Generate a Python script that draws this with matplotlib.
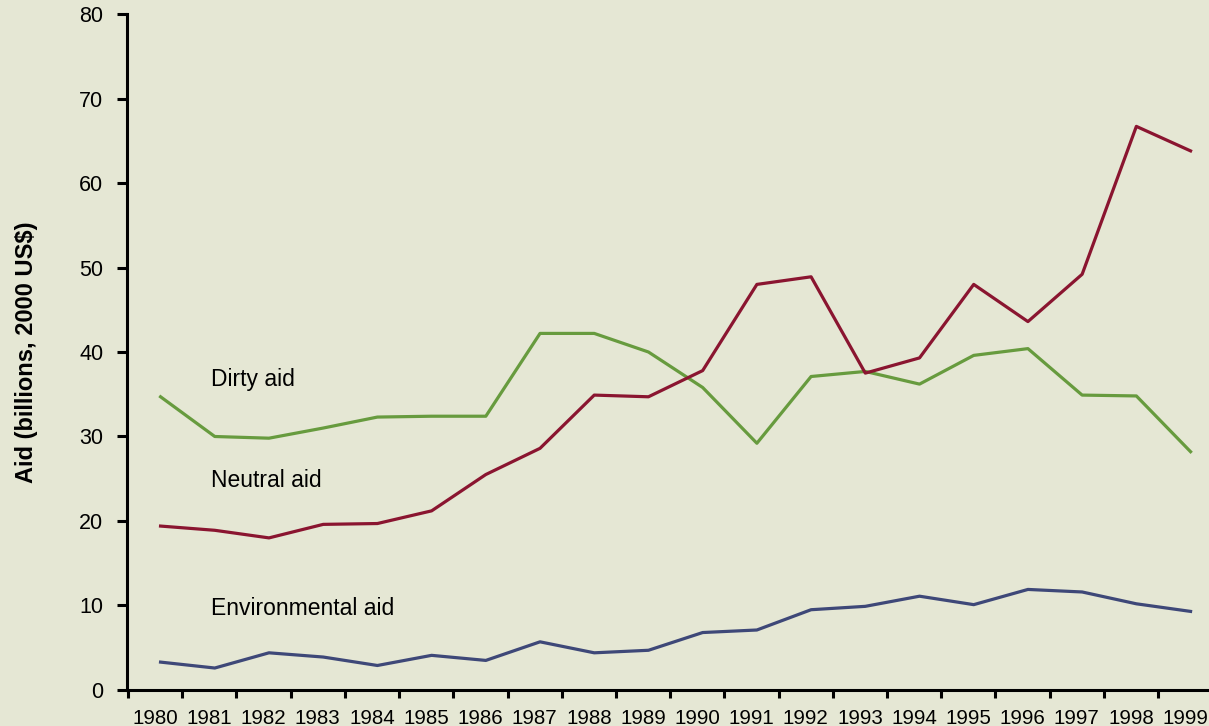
import numpy as np
import matplotlib
matplotlib.use("Agg")
import matplotlib.pyplot as plt

plt.rcParams['font.family'] = ['Liberation Sans', 'DejaVu Sans']

years = list(range(1980, 2000))
dirty_aid = [34.7, 30.0, 29.8, 31.0, 32.3, 32.4, 32.4, 42.2, 42.2, 40.0,
             35.8, 29.2, 37.1, 37.7, 36.2, 39.6, 40.4, 34.9, 34.8, 28.2]
neutral_aid = [19.4, 18.9, 18.0, 19.6, 19.7, 21.2, 25.5, 28.6, 34.9, 34.7,
               37.8, 48.0, 48.9, 37.5, 39.3, 48.0, 43.6, 49.2, 66.7, 63.8]
environmental_aid = [3.3, 2.6, 4.4, 3.9, 2.9, 4.1, 3.5, 5.7, 4.4, 4.7,
                     6.8, 7.1, 9.5, 9.9, 11.1, 10.1, 11.9, 11.6, 10.2, 9.3]

bg = '#e5e7d4'
fig = plt.figure(figsize=(12.09, 7.26), dpi=100, facecolor=bg)
ax = fig.add_axes([0.105, 0.0496, 0.895, 0.9311])
ax.set_facecolor(bg)

# the source draws each point a little right of its year label
x = np.array(years) + 0.1
ax.plot(x, dirty_aid, color='#679b3e', lw=2.3, solid_joinstyle='round')
ax.plot(x, neutral_aid, color='#8a1530', lw=2.3, solid_joinstyle='round')
ax.plot(x, environmental_aid, color='#3e4878', lw=2.3, solid_joinstyle='round')

ax.text(1981.03, 36.8, 'Dirty aid', fontsize=16.5, va='center', ha='left')
ax.text(1981.03, 24.8, 'Neutral aid', fontsize=16.5, va='center', ha='left')
ax.text(1981.03, 9.7, 'Environmental aid', fontsize=16.5, va='center', ha='left')

ax.set_xlim(1979.48, 1999.44)
ax.set_ylim(0, 80)
ax.set_yticks(range(0, 81, 10))
ax.set_xticks(years)
ax.set_xticks(np.arange(1979.5, 1999.5, 1.0), minor=True)
ax.tick_params(axis='x', which='major', length=0, pad=14, labelsize=14.8)
ax.tick_params(axis='x', which='minor', length=6, width=2.2, direction='out')
ax.tick_params(axis='y', length=7, width=2.2, pad=10, labelsize=15.5)

for s in ['top', 'right']:
    ax.spines[s].set_visible(False)
for s in ['left', 'bottom']:
    ax.spines[s].set_linewidth(2.2)

ax.set_ylabel('Aid (billions, 2000 US$)', fontsize=17, fontweight='bold', labelpad=30)

fig.savefig('out.png', dpi=100, facecolor=bg)
